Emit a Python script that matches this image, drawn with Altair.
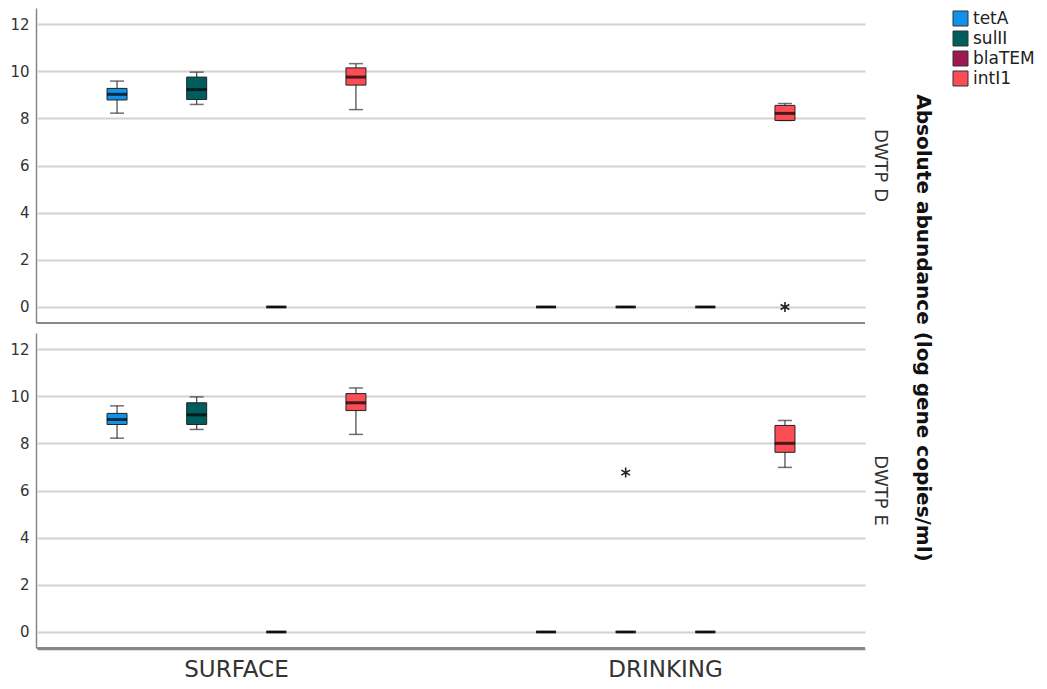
import altair as alt
import pandas as pd

FONT = "DejaVu Sans"

genes = ["tetA", "sulII", "blaTEM", "intI1"]
gene_colors = ["#1192e8", "#005d5d", "#9f1853", "#fa4d56"]
types = ["SURFACE", "DRINKING"]
sites = ["DWTP D", "DWTP E"]

site_col = ["DWTP D"] * 8 + ["DWTP E"] * 8
type_col = (["SURFACE"] * 4 + ["DRINKING"] * 4) * 2
gene_col = genes * 4

# box statistics
lower = [8.22, 8.59, 0, 8.37, 0, 0, 0, 7.91,
         8.22, 8.59, 0, 8.38, 0, 0, 0, 6.98]
q1 = [8.78, 8.80, 0, 9.41, 0, 0, 0, 7.91,
      8.80, 8.80, 0, 9.39, 0, 0, 0, 7.62]
median = [9.02, 9.22, 0, 9.75, 0, 0, 0, 8.21,
          9.01, 9.21, 0, 9.72, 0, 0, 0, 8.00]
q3 = [9.27, 9.75, 0, 10.14, 0, 0, 0, 8.55,
      9.27, 9.72, 0, 10.11, 0, 0, 0, 8.76]
upper = [9.58, 9.96, 0, 10.32, 0, 0, 0, 8.63,
         9.59, 9.97, 0, 10.35, 0, 0, 0, 8.97]
outlier = [None, None, None, None, None, None, None, 0.0,
           None, None, None, None, None, 6.76, None, None]

df = pd.DataFrame({
    "site": site_col, "type": type_col, "gene": gene_col,
    "lower": lower, "q1": q1, "median": median, "q3": q3,
    "upper": upper, "outlier": outlier,
})

W = 828
H = 315
Y_DOMAIN = [-0.68, 12.68]

x_enc = alt.X("type:N", sort=types,
              scale=alt.Scale(paddingInner=0.2, paddingOuter=0.065),
              axis=alt.Axis(title=None, labelAngle=0, labelFontSize=23,
                            labelColor="#333", labelFont=FONT, tickSize=0,
                            labelPadding=9, domainColor="#888",
                            domainWidth=1.5))
xo_enc = alt.XOffset("gene:N", sort=genes,
                     scale=alt.Scale(paddingInner=0, paddingOuter=0.155))
y_scale = alt.Scale(domain=Y_DOMAIN, nice=False, zero=False)
y_axis = alt.Axis(title=None, values=[0, 2, 4, 6, 8, 10, 12], grid=True,
                  gridColor="#d2d2d2", gridWidth=2, tickSize=0,
                  labelPadding=7, labelFontSize=15, labelColor="#333",
                  labelFont=FONT, domainColor="#888", domainWidth=1.5)

base = alt.Chart()

frame = base.mark_rule(color="#888", strokeWidth=1.5).encode(
    x=alt.value(0), x2=alt.value(W), y=alt.value(H))

whisker = base.mark_rule(color="#444", strokeWidth=1.2).encode(
    x=x_enc, xOffset=xo_enc,
    y=alt.Y("lower:Q", scale=y_scale, axis=y_axis), y2="upper:Q")

cap_lo = base.mark_tick(color="#333", size=14, thickness=1.5).encode(
    x=x_enc, xOffset=xo_enc, y=alt.Y("lower:Q", scale=y_scale))
cap_hi = base.mark_tick(color="#333", size=14, thickness=1.5).encode(
    x=x_enc, xOffset=xo_enc, y=alt.Y("upper:Q", scale=y_scale))

box = base.mark_bar(size=20, stroke="#222", strokeWidth=1, opacity=1).encode(
    x=x_enc, xOffset=xo_enc,
    y=alt.Y("q1:Q", scale=y_scale), y2="q3:Q",
    color=alt.Color("gene:N", sort=genes,
                    scale=alt.Scale(domain=genes, range=gene_colors),
                    legend=alt.Legend(title=None, orient="none",
                                      legendX=915, legendY=2,
                                      symbolType="square", symbolSize=225,
                                      symbolStrokeColor="#333",
                                      symbolStrokeWidth=1,
                                      symbolOpacity=1,
                                      labelFontSize=17, labelFont=FONT,
                                      labelColor="#222", rowPadding=1,
                                      labelOffset=4)))

med = base.mark_tick(color="black", size=20, thickness=3).encode(
    x=x_enc, xOffset=xo_enc, y=alt.Y("median:Q", scale=y_scale))

star = base.mark_point(
    shape="M0,-1L0,1M-0.87,-0.5L0.87,0.5M-0.87,0.5L0.87,-0.5",
    size=100, filled=False, color="#222", strokeWidth=1.6, opacity=1).encode(
    x=x_enc, xOffset=xo_enc, y=alt.Y("outlier:Q", scale=y_scale))

layered = alt.layer(frame, whisker, cap_lo, cap_hi, box, med, star).properties(
    width=W, height=H)

chart = layered.facet(
    data=df,
    row=alt.Row("site:N", sort=sites,
                header=alt.Header(title="Absolute abundance (log gene copies/ml)",
                                  titleOrient="right", titleAngle=90,
                                  titleFontSize=20, titleFontWeight="bold",
                                  titleFont=FONT, titleColor="#111",
                                  titlePadding=14,
                                  labelOrient="right",
                                  labelAngle=90, labelFontSize=18,
                                  labelFont=FONT, labelColor="#333",
                                  labelPadding=5)),
    spacing=9,
).properties(
    padding={"left": 1, "top": 0, "right": 0, "bottom": 4},
).configure_view(stroke=None).configure_axis(labelFont=FONT)

chart.save("out.html", embed_options={"renderer": "svg", "actions": False})
